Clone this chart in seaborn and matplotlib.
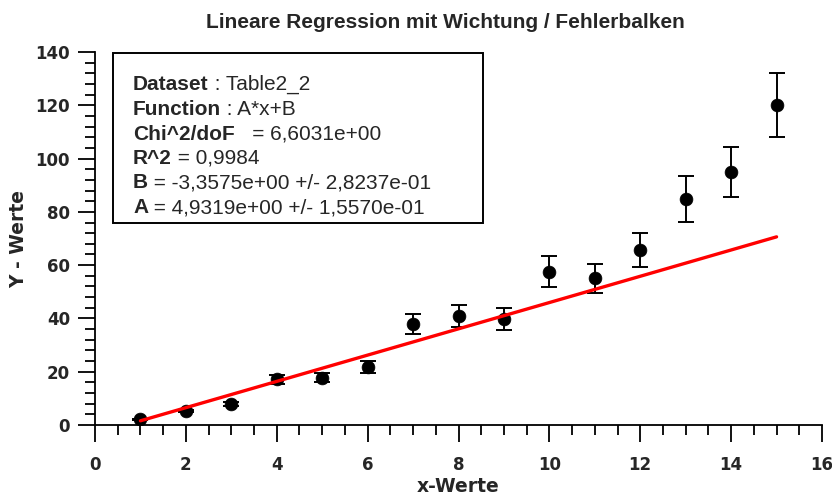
import matplotlib
matplotlib.use("Agg")
import matplotlib.pyplot as plt
from matplotlib.patches import Rectangle
from matplotlib.ticker import MultipleLocator
from matplotlib import font_manager as fm
import seaborn as sns
import pandas as pd

# Measured data with y uncertainties
x_vals = [1, 2, 3, 4, 5, 6, 7, 8, 9, 10, 11, 12, 13, 14, 15]
y_vals = [2.1, 5.3, 7.9, 17.1, 17.8, 21.9, 37.8, 41.0, 39.8, 57.5, 55.1, 65.7, 84.9, 95.0, 120.2]
y_err = [0.2, 0.5, 0.8, 1.7, 1.8, 2.2, 3.75, 4.1, 4.1, 5.75, 5.4, 6.3, 8.6, 9.3, 12.0]

# Weighted linear fit result y = A*x + B
fit_A = 4.9319
fit_B = -3.3575
fit_x = [1, 15]

# Fit report lines (bold label, value text)
report_labels = ["Dataset", "Function", "Chi^2/doF", "R^2", "B", "A"]
report_values = [" : Table2_2", " : A*x+B", "   = 6,6031e+00", " = 0,9984",
                 " = -3,3575e+00 +/- 2,8237e-01", " = 4,9319e+00 +/- 1,5570e-01"]

x_ticks = [0, 2, 4, 6, 8, 10, 12, 14, 16]
y_ticks = [0, 20, 40, 60, 80, 100, 120, 140]


def pick_font(*names):
    for n in names:
        try:
            fm.findfont(fm.FontProperties(family=n), fallback_to_default=False)
            return n
        except Exception:
            continue
    return "DejaVu Sans"


sns.set_style("ticks")
text_font = pick_font("Liberation Sans", "Arial", "DejaVu Sans")
plt.rcParams["font.family"] = ["DejaVu Sans"]

df = pd.DataFrame({"x": x_vals, "y": y_vals, "err": y_err})
fit_df = pd.DataFrame({"x": fit_x, "y": [fit_A * v + fit_B for v in fit_x]})

W, H = 832, 499
fig = plt.figure(figsize=(W / 100, H / 100), dpi=100)
ax = fig.add_axes([95 / W, 74 / H, 727 / W, 373 / H])

# error bars, points and fitted line
ax.errorbar(df["x"], df["y"], yerr=df["err"], fmt="none", ecolor="black",
            elinewidth=1.4, capsize=5.5, capthick=1.4, zorder=2)
sns.scatterplot(data=df, x="x", y="y", ax=ax, color="black", s=85,
                edgecolor="black", linewidth=0.5, zorder=3, legend=False)
sns.lineplot(data=fit_df, x="x", y="y", ax=ax, color="#ff0000", linewidth=2.4,
             zorder=4, legend=False)

ax.set_xlim(0, 16)
ax.set_ylim(0, 140)
ax.set_xticks(x_ticks)
ax.set_yticks(y_ticks)
ax.xaxis.set_minor_locator(MultipleLocator(0.5))
ax.yaxis.set_minor_locator(MultipleLocator(4))
ax.tick_params(which="major", length=12, width=1.3, direction="out", color="black")
ax.tick_params(which="minor", length=7, width=1.3, direction="out", color="black")
ax.tick_params(axis="x", which="major", pad=10)
ax.tick_params(axis="y", which="major", pad=6)
for lab in ax.get_xticklabels() + ax.get_yticklabels():
    lab.set_fontsize(12)
    lab.set_fontweight("bold")
for side in ("top", "right"):
    ax.spines[side].set_visible(False)
for side in ("left", "bottom"):
    ax.spines[side].set_linewidth(1.3)
    ax.spines[side].set_color("black")

ax.set_xlabel("x-Werte", fontsize=13.5, fontweight="bold")
ax.set_ylabel("Y - Werte", fontsize=13.5, fontweight="bold")
ax.xaxis.set_label_coords(0.5, -0.14)
ax.yaxis.set_label_coords(-0.092, 0.5)

fig.text(445 / W, 1 - 28 / H, "Lineare Regression mit Wichtung / Fehlerbalken",
         ha="center", va="baseline", fontsize=15, fontweight="bold",
         family=[text_font, "DejaVu Sans"])

# fit report box
x0, x1 = (113 - 95) / 727, (483 - 95) / 727
y0, y1 = (425 - 223) / 373, (425 - 53) / 373
ax.add_patch(Rectangle((x0, y0), x1 - x0, y1 - y0, transform=ax.transAxes,
                       facecolor="white", edgecolor="black", linewidth=1.4,
                       zorder=5, clip_on=False))

baselines = [90, 114.5, 139.5, 164, 188.5, 213]
for lab, val, b in zip(report_labels, report_values, baselines):
    t = fig.text(133 / W, 1 - b / H, lab, ha="left", va="baseline",
                 fontsize=15, fontweight="bold", family=[text_font, "DejaVu Sans"],
                 zorder=6)
    ax.annotate(val, xy=(1, 0), xycoords=t, ha="left", va="bottom",
                fontsize=15, family=[text_font, "DejaVu Sans"], zorder=6,
                annotation_clip=False)

fig.savefig("out.png", dpi=100, facecolor="white")
